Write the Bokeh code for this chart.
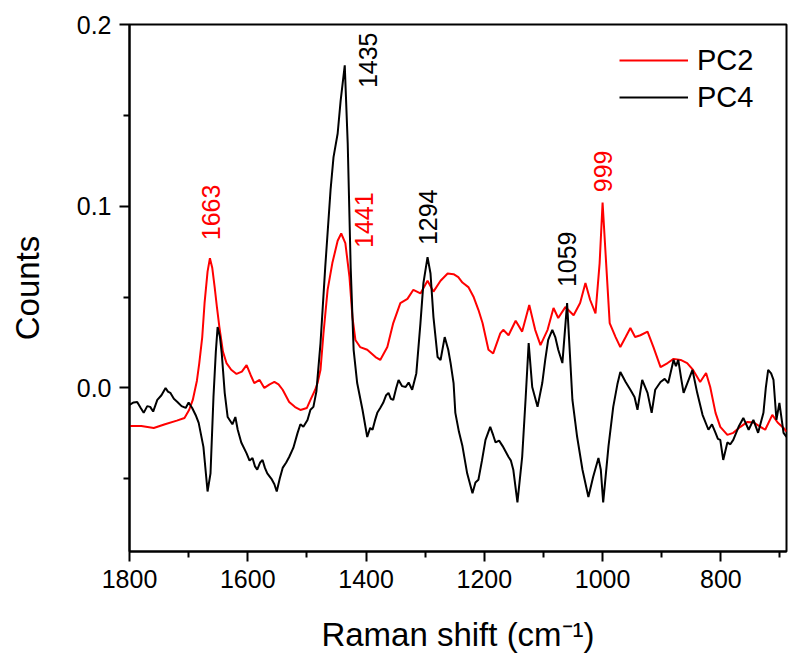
import math
from bokeh.plotting import figure
from bokeh.models import (ColumnDataSource, Range1d, FixedTicker, Legend, LegendItem,
                          PrintfTickFormatter)
from bokeh.core.properties import value
from bokeh.embed import file_html
from bokeh.resources import INLINE

# ---------------- data ----------------
pc2_x = [1800, 1780, 1759, 1740, 1720, 1707, 1699, 1693, 1686, 1682, 1677, 1673, 1668, 1664,
         1660, 1656, 1652, 1648, 1642, 1636, 1628, 1619, 1610, 1602, 1595, 1589, 1580, 1572,
         1563, 1555, 1548, 1541, 1530, 1520, 1511, 1500, 1494, 1486, 1482, 1477, 1472, 1465,
         1457, 1448, 1442, 1435, 1428, 1423, 1418, 1410, 1398, 1384, 1376, 1364, 1354, 1342,
         1330, 1320, 1308, 1296, 1286, 1274, 1262, 1252, 1244, 1237, 1227, 1218, 1210, 1203,
         1193, 1185, 1173, 1168, 1159, 1147, 1136, 1124, 1114, 1105, 1093, 1083, 1075, 1063,
         1049, 1038, 1029, 1021, 1012, 1005, 1000, 994, 988, 978, 970, 961, 953, 945, 936,
         924, 914, 902, 890, 880, 868, 857, 847, 835, 825, 818, 809, 801, 789, 779, 767, 755,
         745, 733, 725, 713, 704, 694, 689]
pc2_y = [-0.021, -0.021, -0.022, -0.020, -0.018, -0.0165, -0.012, -0.0066, 0.004, 0.0137, 0.028,
         0.047, 0.064, 0.0714, 0.066, 0.0555, 0.044, 0.0335, 0.020, 0.0137, 0.010, 0.0077, 0.009,
         0.0126, 0.007, 0.0027, 0.0044, 0.0, 0.002, 0.0033, 0.002, -0.001, -0.0077, -0.0105,
         -0.0121, -0.011, -0.0066, -0.001, 0.0027, 0.010, 0.030, 0.054, 0.0687, 0.081, 0.085,
         0.0797, 0.061, 0.039, 0.0264, 0.0225, 0.021, 0.017, 0.0154, 0.0225, 0.0357, 0.0467,
         0.049, 0.054, 0.052, 0.059, 0.053, 0.059, 0.063, 0.0626, 0.061, 0.058, 0.0555, 0.050,
         0.043, 0.0357, 0.021, 0.019, 0.030, 0.032, 0.029, 0.037, 0.031, 0.0456, 0.032, 0.0236,
         0.032, 0.044, 0.0385, 0.0445, 0.040, 0.0467, 0.0577, 0.0484, 0.041, 0.0687, 0.102,
         0.0687, 0.0357, 0.028, 0.0225, 0.028, 0.033, 0.028, 0.029, 0.031, 0.0225, 0.0115,
         0.0137, 0.016, 0.0154, 0.0137, 0.0099, 0.0033, 0.0082, 0.0005, -0.0137, -0.0214,
         -0.0258, -0.0247, -0.0214, -0.0187, -0.019, -0.0214, -0.023, -0.0148, -0.019, -0.022,
         -0.024]

pc4_x = [1800, 1793, 1787, 1781, 1776, 1770, 1765, 1760, 1753, 1746, 1739, 1735, 1731, 1725,
         1719, 1712, 1705, 1700, 1694, 1688, 1683, 1675, 1668, 1663, 1658, 1654, 1651, 1647,
         1644, 1639, 1634, 1626, 1621, 1617, 1611, 1602, 1597, 1592, 1588, 1584, 1579, 1575,
         1571, 1567, 1560, 1555, 1551, 1546, 1541, 1535, 1530, 1523, 1516, 1511, 1506, 1499,
         1494, 1489, 1484, 1477, 1469, 1460, 1455, 1448, 1443, 1436, 1431, 1426, 1421, 1415,
         1406, 1398, 1393, 1389, 1385, 1381, 1376, 1371, 1366, 1362, 1358, 1354, 1349, 1345,
         1339, 1333, 1328, 1322, 1315, 1308, 1303, 1296, 1291, 1286, 1279, 1274, 1267, 1261,
         1257, 1252, 1249, 1243, 1237, 1229, 1220, 1215, 1210, 1204, 1198, 1190, 1185, 1181,
         1175, 1169, 1164, 1159, 1155, 1151, 1144, 1136, 1130, 1125, 1119, 1110, 1102, 1097,
         1092, 1085, 1080, 1075, 1068, 1060, 1051, 1043, 1034, 1024, 1016, 1007, 1003, 999,
         990, 982, 975, 970, 961, 953, 946, 941, 933, 924, 917, 911, 902, 895, 889, 880, 876,
         872, 867, 863, 855, 848, 840, 831, 821, 815, 809, 805, 801, 796, 789, 784, 779, 770,
         762, 753, 745, 737, 728, 724, 720, 715, 711, 706, 701, 694, 689]
pc4_y = [-0.0093, -0.008, -0.0077, -0.011, -0.0137, -0.010, -0.0104, -0.013, -0.0066, -0.004,
         0.0, -0.002, -0.0027, -0.006, -0.0077, -0.010, -0.011, -0.008, -0.011, -0.015, -0.0192,
         -0.0324, -0.057, -0.047, -0.005, 0.020, 0.0335, 0.028, 0.019, -0.0027, -0.016, -0.020,
         -0.016, -0.023, -0.030, -0.036, -0.040, -0.0385, -0.043, -0.045, -0.041, -0.0396,
         -0.044, -0.047, -0.050, -0.053, -0.057, -0.050, -0.044, -0.041, -0.038, -0.033,
         -0.025, -0.020, -0.0214, -0.0176, -0.012, -0.0104, -0.002, 0.0247, 0.0665, 0.109,
         0.127, 0.140, 0.158, 0.1775, 0.1346, 0.0665, 0.021, 0.0027, -0.012, -0.027, -0.022,
         -0.023, -0.018, -0.0137, -0.011, -0.0082, -0.004, -0.0027, -0.006, -0.0066, 0.0,
         0.0044, 0.001, 0.0005, 0.003, -0.001, 0.008, 0.0357, 0.0577, 0.072, 0.063, 0.039,
         0.017, 0.0154, 0.028, 0.021, 0.0137, 0.0027, -0.0137, -0.024, -0.032, -0.047, -0.058,
         -0.052, -0.0505, -0.040, -0.0286, -0.0214, -0.026, -0.030, -0.029, -0.032, -0.035,
         -0.038, -0.040, -0.045, -0.063, -0.038, -0.005, 0.0247, 0.0005, -0.0104, 0.0027,
         0.0154, 0.0264, 0.032, 0.028, 0.021, 0.0137, 0.0467, -0.0066, -0.027, -0.045, -0.060,
         -0.049, -0.0385, -0.045, -0.063, -0.032, -0.0104, 0.002, 0.0088, 0.0033, -0.001,
         -0.005, -0.012, 0.0044, -0.0027, -0.0137, -0.001, 0.0033, 0.005, 0.0027, 0.0154,
         0.012, 0.0154, 0.005, -0.0027, 0.004, 0.0099, -0.0027, -0.0148, -0.023, -0.020,
         -0.0247, -0.028, -0.0286, -0.0396, -0.030, -0.031, -0.0286, -0.0214, -0.0165, -0.023,
         -0.0176, -0.0247, -0.0137, 0.000, 0.0099, 0.008, 0.0044, -0.0176, -0.0082, -0.0247,
         -0.027]

peak_labels = ["1663", "1435", "1441", "1294", "1059", "999"]
peak_label_x = [1663, 1396, 1403, 1294.5, 1059.5, 998.6]
peak_label_y = [0.0813, 0.165, 0.077, 0.0786, 0.0555, 0.1077]
peak_label_color = ["#ff0000", "#000000", "#ff0000", "#000000", "#000000", "#ff0000"]

x_major = [800, 1000, 1200, 1400, 1600, 1800]
x_minor = [700, 900, 1100, 1300, 1500, 1700]
y_major = [0.0, 0.1, 0.2]
y_minor = [-0.05, 0.05, 0.15]

FONT = "Liberation Sans"

p = figure(width=792, height=659, output_backend="svg", toolbar_location=None,
           x_range=Range1d(1800, 689), y_range=Range1d(-0.09, 0.2),
           min_border_left=129, min_border_right=6, min_border_top=24, min_border_bottom=108)
p.background_fill_color = "white"
p.border_fill_color = "white"
p.outline_line_color = "black"
p.outline_line_width = 2
p.xgrid.visible = False
p.ygrid.visible = False

r2 = p.line(pc2_x, pc2_y, line_color="#ff0000", line_width=2)
r4 = p.line(pc4_x, pc4_y, line_color="#000000", line_width=2)

src = ColumnDataSource(dict(x=peak_label_x, y=peak_label_y, t=peak_labels, c=peak_label_color))
p.text(x="x", y="y", text="t", text_color="c", source=src, angle=math.pi / 2,
       text_align="left", text_baseline="middle", text_font=value(FONT),
       text_font_size="25px")

for ax, maj, mino in ((p.xaxis[0], x_major, x_minor), (p.yaxis[0], y_major, y_minor)):
    ax.ticker = FixedTicker(ticks=maj, minor_ticks=mino)
    ax.axis_line_width = 2
    ax.axis_line_color = "black"
    ax.major_tick_line_width = 2
    ax.minor_tick_line_width = 2
    ax.major_tick_in = 0
    ax.major_tick_out = 10
    ax.minor_tick_in = 0
    ax.minor_tick_out = 6
    ax.major_label_text_font = FONT
    ax.major_label_text_font_size = "25px"
    ax.major_label_text_color = "black"
    ax.axis_label_text_font = FONT
    ax.axis_label_text_font_size = "33px"
    ax.axis_label_text_font_style = "normal"
    ax.axis_label_text_color = "black"

p.yaxis[0].formatter = PrintfTickFormatter(format="%.1f")
p.xaxis.axis_label = "Raman shift (cm\u207b\u00b9)"
p.yaxis.axis_label = "Counts"
p.xaxis[0].major_label_standoff = 8
p.yaxis[0].major_label_standoff = 8
p.xaxis[0].axis_label_standoff = 25
p.yaxis[0].axis_label_standoff = 28

legend = Legend(items=[LegendItem(label="PC2", renderers=[r2]),
                       LegendItem(label="PC4", renderers=[r4])],
                location=(490, 437), border_line_color=None, background_fill_alpha=0,
                padding=0, margin=0, spacing=3, glyph_width=69, glyph_height=34,
                label_height=34, label_standoff=9, label_text_font=FONT,
                label_text_color="black", label_text_font_size="29px")
p.add_layout(legend)

open("out.html", "w").write(file_html(p, INLINE))
